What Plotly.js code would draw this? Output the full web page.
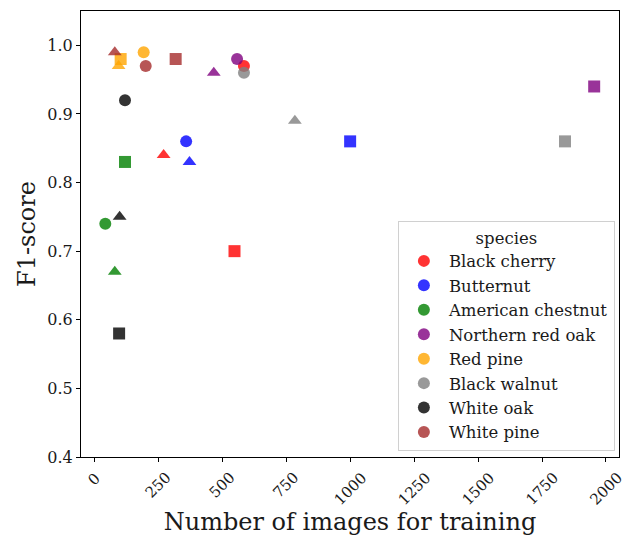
<!DOCTYPE html>
<html>
<head>
<meta charset="utf-8">
<script src="https://cdn.plot.ly/plotly-3.0.1.min.js"></script>
<style>html,body{margin:0;padding:0;background:#fff;}#chart{width:631px;height:536px;}</style>
</head>
<body>
<div id="chart"></div>
<script>
// Species (hue) and their colours
const species = ["Black cherry", "Butternut", "American chestnut", "Northern red oak", "Red pine", "Black walnut", "White oak", "White pine"];
const colors = ["red", "blue", "green", "purple", "orange", "gray", "black", "brown"];
// Marker shapes: each species has one point per shape, in this order
const shapes = ["circle", "triangle-up", "square"];
// Number of training images (x) per species, ordered [circle, triangle, square]
const xBlackCherry = [585, 271, 548];
const xButternut = [359, 372, 1000];
const xAmericanChestnut = [43, 80, 120];
const xNorthernRedOak = [558, 467, 1954];
const xRedPine = [193, 95, 103];
const xBlackWalnut = [585, 784, 1840];
const xWhiteOak = [120, 99, 97];
const xWhitePine = [201, 80, 318];
// F1-score (y) per species, ordered [circle, triangle, square]
const yBlackCherry = [0.97, 0.84, 0.70];
const yButternut = [0.86, 0.83, 0.86];
const yAmericanChestnut = [0.74, 0.67, 0.83];
const yNorthernRedOak = [0.98, 0.96, 0.94];
const yRedPine = [0.99, 0.97, 0.98];
const yBlackWalnut = [0.96, 0.89, 0.86];
const yWhiteOak = [0.92, 0.75, 0.58];
const yWhitePine = [0.97, 0.99, 0.98];
// Axis ticks
const xTicks = [0, 250, 500, 750, 1000, 1250, 1500, 1750, 2000];
const yTicks = [0.4, 0.5, 0.6, 0.7, 0.8, 0.9, 1.0];

const xs = [xBlackCherry, xButternut, xAmericanChestnut, xNorthernRedOak, xRedPine, xBlackWalnut, xWhiteOak, xWhitePine];
const ys = [yBlackCherry, yButternut, yAmericanChestnut, yNorthernRedOak, yRedPine, yBlackWalnut, yWhiteOak, yWhitePine];

const font = "DejaVu Serif";
const traces = species.map((s, i) => ({
  type: "scatter",
  mode: "markers",
  name: s,
  x: xs[i],
  y: ys[i],
  marker: {
    color: colors[i],
    symbol: shapes,
    size: 12,
    opacity: 0.8,
    line: {width: 0}
  },
  legendgroup: "g" + i
}));

// Rotated x tick labels, centred under each tick (matplotlib style)
const tickLabels = xTicks.map(v => ({
  x: v, xref: "x",
  y: 0, yref: "paper",
  text: String(v),
  showarrow: false,
  textangle: -45,
  xanchor: "center",
  yanchor: "top",
  yshift: -9,
  font: {family: font, size: 15, color: "#1a1a1a"}
}));

const layout = {
  width: 631,
  height: 536,
  margin: {l: 81, r: 12, t: 11, b: 79},
  paper_bgcolor: "#fff",
  plot_bgcolor: "#fff",
  font: {family: font, size: 16, color: "#1a1a1a"},
  showlegend: true,
  legend: {
    x: 0.589, y: 0.013, xanchor: "left", yanchor: "bottom",
    bgcolor: "rgba(255,255,255,0.8)",
    bordercolor: "#d0d0d0",
    borderwidth: 1,
    font: {family: font, size: 16.5, color: "#1a1a1a"},
    title: {text: "species", side: "top center", font: {family: font, size: 16.5}},
    tracegroupgap: 0,
    itemwidth: 40,
    itemsizing: "constant"
  },
  annotations: tickLabels,
  xaxis: {
    range: [-52, 2051],
    tickvals: xTicks,
    showticklabels: false,
    ticks: "outside",
    ticklen: 4,
    tickcolor: "#000",
    showline: true,
    linecolor: "#000",
    linewidth: 1,
    mirror: true,
    showgrid: false,
    zeroline: false,
    title: {text: "Number of images for training", font: {family: font, size: 24}, standoff: 54}
  },
  yaxis: {
    range: [0.4, 1.05],
    tickvals: yTicks,
    ticktext: yTicks.map(v => v.toFixed(1)),
    ticks: "outside",
    ticklen: 4,
    tickcolor: "#000",
    showline: true,
    linecolor: "#000",
    linewidth: 1,
    mirror: true,
    showgrid: false,
    zeroline: false,
    tickfont: {family: font, size: 16},
    title: {text: "F1-score", font: {family: font, size: 24}, standoff: 4}
  }
};

Plotly.newPlot("chart", traces, layout, {displayModeBar: false, staticPlot: true});
</script>
</body>
</html>
